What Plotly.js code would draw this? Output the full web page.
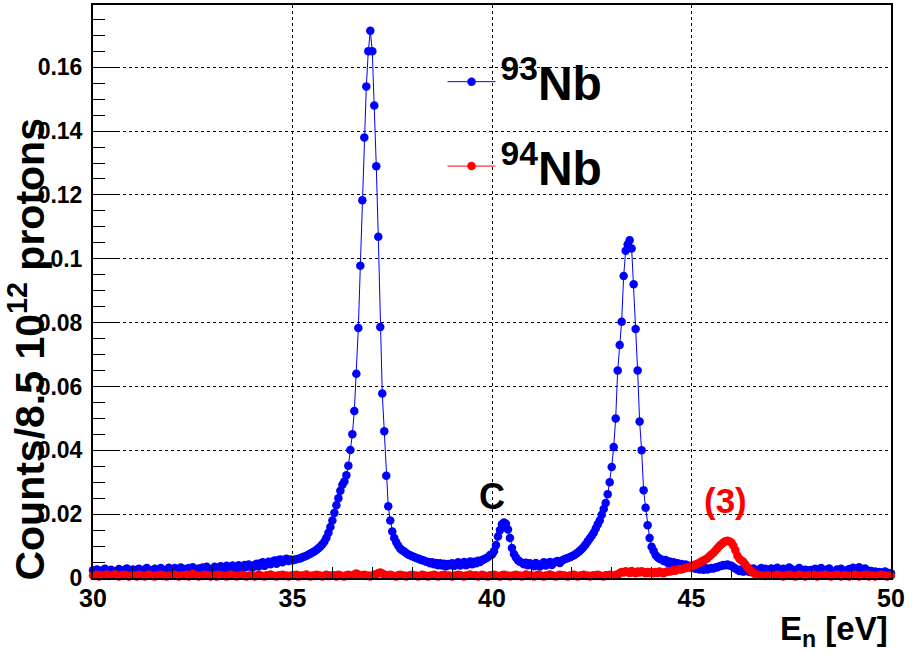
<!DOCTYPE html>
<html>
<head>
<meta charset="utf-8">
<script src="https://cdn.plot.ly/plotly-3.0.1.min.js"></script>
<style>html,body{margin:0;padding:0;background:#fff;}#chart{width:912px;height:653px;}</style>
</head>
<body>
<div id="chart"></div>
<script>
// Neutron energy bins: start and width (eV)
const binStart = 30.0;
const binWidth = 0.05;

// x-axis tick labels
const xTickVals = [30, 35, 40, 45, 50];
const xTickText = ['30', '35', '40', '45', '50'];

// 93Nb counts per bin, one row per eV (30 ... 49.95), last value at 50.00
const nb93 = [
  0.0024,0.0017,0.0027,0.0020,0.0015,0.0025,0.0029,0.0019,0.0016,0.0026,0.0022,0.0014,0.0021,0.0028,0.0023,0.0016,0.0026,0.0030,0.0018,0.0024,
  0.0027,0.0019,0.0015,0.0029,0.0023,0.0017,0.0027,0.0031,0.0018,0.0024,0.0016,0.0029,0.0022,0.0018,0.0031,0.0025,0.0017,0.0023,0.0032,0.0024,
  0.0022,0.0031,0.0019,0.0026,0.0033,0.0021,0.0028,0.0018,0.0031,0.0024,0.0034,0.0027,0.0020,0.0030,0.0024,0.0033,0.0026,0.0035,0.0028,0.0022,
  0.0026,0.0035,0.0028,0.0022,0.0037,0.0030,0.0025,0.0038,0.0031,0.0026,0.0039,0.0033,0.0027,0.0040,0.0034,0.0029,0.0041,0.0035,0.0042,0.0036,
  0.0033,0.0041,0.0045,0.0036,0.0046,0.0049,0.0038,0.0047,0.0051,0.0043,0.0052,0.0055,0.0045,0.0056,0.0058,0.0049,0.0057,0.0060,0.0053,0.0058,
  0.0055,0.0057,0.0059,0.0060,0.0062,0.0065,0.0067,0.0070,0.0073,0.0077,0.0080,0.0084,0.0088,0.0093,0.0099,0.0106,0.0114,0.0126,0.0142,0.0160,
  0.0180,0.0204,0.0228,0.0250,0.0273,0.0292,0.0302,0.0322,0.0352,0.0401,0.0450,0.0523,0.0640,0.0783,0.0978,0.1183,0.1380,0.1540,0.1650,0.1714,
  0.1650,0.1480,0.1290,0.1069,0.0786,0.0578,0.0460,0.0320,0.0225,0.0180,0.0146,0.0125,0.0112,0.0101,0.0092,0.0087,0.0083,0.0078,0.0074,0.0071,
  0.0068,0.0066,0.0063,0.0061,0.0058,0.0056,0.0054,0.0051,0.0050,0.0046,0.0049,0.0043,0.0047,0.0040,0.0046,0.0039,0.0045,0.0037,0.0044,0.0040,
  0.0046,0.0038,0.0044,0.0049,0.0039,0.0045,0.0050,0.0040,0.0047,0.0052,0.0043,0.0051,0.0046,0.0054,0.0050,0.0056,0.0059,0.0062,0.0066,0.0072,
  0.0074,0.0084,0.0103,0.0130,0.0150,0.0168,0.0174,0.0170,0.0152,0.0125,0.0094,0.0075,0.0064,0.0056,0.0051,0.0048,0.0043,0.0048,0.0040,0.0046,
  0.0041,0.0037,0.0047,0.0040,0.0036,0.0045,0.0049,0.0039,0.0046,0.0050,0.0041,0.0048,0.0051,0.0053,0.0047,0.0054,0.0058,0.0060,0.0063,0.0065,
  0.0068,0.0071,0.0075,0.0080,0.0085,0.0091,0.0098,0.0106,0.0115,0.0124,0.0132,0.0142,0.0155,0.0168,0.0180,0.0198,0.0216,0.0235,0.0262,0.0300,
  0.0348,0.0410,0.0500,0.0650,0.0730,0.0803,0.0946,0.1025,0.1045,0.1058,0.1032,0.0920,0.0780,0.0650,0.0490,0.0400,0.0275,0.0220,0.0165,0.0125,
  0.0098,0.0085,0.0072,0.0065,0.0060,0.0058,0.0053,0.0056,0.0048,0.0052,0.0044,0.0049,0.0041,0.0046,0.0039,0.0044,0.0037,0.0042,0.0034,0.0038,
  0.0032,0.0036,0.0029,0.0034,0.0027,0.0032,0.0026,0.0031,0.0027,0.0029,0.0031,0.0030,0.0033,0.0034,0.0037,0.0038,0.0041,0.0040,0.0042,0.0039,
  0.0038,0.0034,0.0030,0.0026,0.0022,0.0027,0.0020,0.0028,0.0023,0.0019,0.0026,0.0030,0.0022,0.0019,0.0027,0.0031,0.0023,0.0029,0.0020,0.0026,
  0.0030,0.0021,0.0026,0.0032,0.0024,0.0019,0.0029,0.0022,0.0027,0.0033,0.0028,0.0021,0.0019,0.0027,0.0031,0.0023,0.0018,0.0026,0.0024,0.0019,
  0.0025,0.0020,0.0029,0.0018,0.0024,0.0031,0.0021,0.0019,0.0026,0.0030,0.0022,0.0017,0.0020,0.0027,0.0023,0.0029,0.0019,0.0017,0.0024,0.0028,
  0.0026,0.0032,0.0024,0.0029,0.0034,0.0025,0.0020,0.0030,0.0024,0.0019,0.0022,0.0017,0.0020,0.0015,0.0019,0.0014,0.0017,0.0020,0.0013,0.0016,
  0.0015
];

// 94Nb counts per bin, same binning
const nb94 = [
  0.0008,0.0006,0.0010,0.0005,0.0009,0.0007,0.0008,0.0011,0.0006,0.0007,0.0009,0.0012,0.0007,0.0005,0.0009,0.0006,0.0010,0.0008,0.0005,0.0007,
  0.0009,0.0007,0.0005,0.0010,0.0006,0.0008,0.0005,0.0007,0.0011,0.0008,0.0006,0.0005,0.0009,0.0007,0.0010,0.0006,0.0008,0.0005,0.0007,0.0009,
  0.0007,0.0010,0.0008,0.0005,0.0007,0.0009,0.0006,0.0010,0.0005,0.0008,0.0013,0.0009,0.0007,0.0005,0.0008,0.0006,0.0010,0.0007,0.0009,0.0005,
  0.0007,0.0009,0.0005,0.0010,0.0007,0.0008,0.0006,0.0005,0.0009,0.0011,0.0007,0.0008,0.0005,0.0007,0.0009,0.0010,0.0006,0.0005,0.0008,0.0007,
  0.0008,0.0005,0.0007,0.0010,0.0008,0.0006,0.0005,0.0009,0.0007,0.0011,0.0008,0.0006,0.0005,0.0009,0.0007,0.0010,0.0006,0.0008,0.0005,0.0007,
  0.0009,0.0007,0.0010,0.0005,0.0008,0.0006,0.0009,0.0011,0.0007,0.0005,0.0008,0.0006,0.0010,0.0009,0.0007,0.0005,0.0008,0.0010,0.0006,0.0008,
  0.0007,0.0009,0.0005,0.0010,0.0008,0.0006,0.0005,0.0009,0.0010,0.0007,0.0008,0.0011,0.0014,0.0011,0.0007,0.0008,0.0010,0.0006,0.0008,0.0005,
  0.0008,0.0010,0.0012,0.0015,0.0017,0.0014,0.0011,0.0008,0.0007,0.0010,0.0008,0.0006,0.0005,0.0009,0.0010,0.0007,0.0008,0.0005,0.0007,0.0009,
  0.0010,0.0007,0.0008,0.0005,0.0007,0.0010,0.0009,0.0006,0.0005,0.0008,0.0007,0.0010,0.0008,0.0005,0.0007,0.0009,0.0010,0.0006,0.0008,0.0007,
  0.0005,0.0008,0.0007,0.0010,0.0009,0.0006,0.0005,0.0008,0.0007,0.0011,0.0008,0.0006,0.0009,0.0005,0.0007,0.0010,0.0008,0.0006,0.0005,0.0009,
  0.0007,0.0010,0.0008,0.0006,0.0005,0.0009,0.0010,0.0007,0.0008,0.0005,0.0007,0.0009,0.0010,0.0006,0.0008,0.0005,0.0007,0.0011,0.0009,0.0006,
  0.0008,0.0005,0.0007,0.0010,0.0009,0.0006,0.0005,0.0008,0.0007,0.0011,0.0009,0.0006,0.0005,0.0008,0.0010,0.0007,0.0009,0.0006,0.0005,0.0008,
  0.0007,0.0010,0.0008,0.0005,0.0007,0.0009,0.0010,0.0006,0.0008,0.0005,0.0007,0.0009,0.0006,0.0010,0.0008,0.0006,0.0005,0.0009,0.0007,0.0010,
  0.0008,0.0006,0.0010,0.0009,0.0016,0.0019,0.0017,0.0021,0.0019,0.0016,0.0022,0.0018,0.0015,0.0020,0.0017,0.0021,0.0018,0.0015,0.0019,0.0016,
  0.0018,0.0015,0.0019,0.0016,0.0020,0.0017,0.0015,0.0019,0.0021,0.0020,0.0022,0.0024,0.0023,0.0026,0.0028,0.0027,0.0029,0.0031,0.0033,0.0034,
  0.0037,0.0040,0.0042,0.0045,0.0048,0.0052,0.0055,0.0058,0.0062,0.0068,0.0074,0.0079,0.0086,0.0093,0.0100,0.0106,0.0111,0.0115,0.0117,0.0114,
  0.0111,0.0101,0.0087,0.0070,0.0060,0.0055,0.0051,0.0042,0.0034,0.0027,0.0021,0.0016,0.0012,0.0010,0.0009,0.0008,0.0007,0.0006,0.0008,0.0007,
  0.0008,0.0006,0.0007,0.0010,0.0008,0.0007,0.0005,0.0008,0.0007,0.0010,0.0008,0.0006,0.0005,0.0008,0.0010,0.0007,0.0008,0.0005,0.0007,0.0009,
  0.0007,0.0010,0.0008,0.0005,0.0007,0.0009,0.0007,0.0010,0.0008,0.0006,0.0005,0.0008,0.0007,0.0010,0.0008,0.0005,0.0007,0.0009,0.0007,0.0005,
  0.0008,0.0007,0.0010,0.0008,0.0005,0.0007,0.0009,0.0007,0.0010,0.0005,0.0008,0.0007,0.0005,0.0008,0.0007,0.0010,0.0007,0.0008,0.0005,0.0007,
  0.0007
];

const seriesNames = ['<sup>93</sup>Nb', '<sup>94</sup>Nb'];
const peakLabels = ['C', '(3)'];
const peakLabelX = [40.0, 45.84];
const peakLabelY = [0.0254, 0.0244];

const FONT = 'Liberation Sans, Arial, Helvetica, sans-serif';

const traces = [
  {
    type: 'scatter', mode: 'lines+markers', name: seriesNames[0],
    x0: binStart, dx: binWidth, y: nb93, cliponaxis: false,
    line: {color: '#0000ff', width: 1},
    marker: {color: '#0000ff', size: 8.5},
    legendgroup: 'a'
  },
  {
    type: 'scatter', mode: 'lines+markers', name: seriesNames[1],
    x0: binStart, dx: binWidth, y: nb94, cliponaxis: false,
    line: {color: '#ff0000', width: 1},
    marker: {color: '#ff0000', size: 8.5},
    legendgroup: 'b'
  }
];

const layout = {
  width: 912, height: 653,
  margin: {l: 93, r: 21, t: 5, b: 75},
  paper_bgcolor: '#ffffff', plot_bgcolor: '#ffffff',
  font: {family: FONT, color: '#000', weight: 700},
  showlegend: true,
  legend: {
    x: 0.438, y: 0.932, xanchor: 'left', yanchor: 'top',
    bgcolor: 'rgba(0,0,0,0)', borderwidth: 0,
    font: {family: FONT, size: 48, color: '#000', weight: 700},
    traceorder: 'grouped', tracegroupgap: 19, itemwidth: 48
  },
  xaxis: {
    range: [30, 50], tickmode: 'array',
    tickvals: xTickVals, ticktext: xTickText.map(t => '<b>' + t + '</b>'),
    ticks: 'inside', ticklen: 22, tickwidth: 1, tickcolor: '#000',
    minor: {dtick: 1, tick0: 30, ticks: 'inside', ticklen: 11, tickwidth: 1, tickcolor: '#000', showgrid: false},
    showgrid: true, gridcolor: '#000', griddash: 'dot', gridwidth: 1,
    showline: true, linecolor: '#000', linewidth: 2, mirror: true,
    zeroline: false,
    tickfont: {family: FONT, size: 25, color: '#000', weight: 700},
    ticklabelstandoff: -3
  },
  yaxis: {
    range: [0, 0.1795], dtick: 0.02, tick0: 0,
    ticks: 'inside', ticklen: 24, tickwidth: 1, tickcolor: '#000',
    minor: {dtick: 0.005, ticks: 'inside', ticklen: 12, tickwidth: 1, tickcolor: '#000', showgrid: false},
    showgrid: true, gridcolor: '#000', griddash: 'dot', gridwidth: 1,
    showline: true, linecolor: '#000', linewidth: 2, mirror: true,
    zeroline: false,
    tickfont: {family: FONT, size: 23, color: '#000', weight: 700},
    ticklabelstandoff: 4
  },
  annotations: [
    {xref: 'paper', yref: 'paper', x: -0.083, y: 0.40, xanchor: 'center', yanchor: 'middle',
     textangle: -90, showarrow: false,
     text: 'Counts/8.5 10<sup>12</sup> protons',
     font: {family: FONT, size: 41, color: '#000', weight: 700}},
    {xref: 'paper', yref: 'paper', x: 0.9987, y: -0.093, xanchor: 'right', yanchor: 'middle',
     showarrow: false, text: 'E<sub>n</sub> [eV]',
     font: {family: FONT, size: 33, color: '#000', weight: 700}},
    {xref: 'x', yref: 'y', x: peakLabelX[0], y: peakLabelY[0], xanchor: 'center', yanchor: 'middle',
     showarrow: false, text: peakLabels[0],
     font: {family: FONT, size: 36, color: '#000', weight: 700}},
    {xref: 'x', yref: 'y', x: peakLabelX[1], y: peakLabelY[1], xanchor: 'center', yanchor: 'middle',
     showarrow: false, text: peakLabels[1],
     font: {family: FONT, size: 35, color: '#ff0000', weight: 700}}
  ]
};

Plotly.newPlot('chart', traces, layout, {displayModeBar: false, staticPlot: true});
</script>
</body>
</html>
